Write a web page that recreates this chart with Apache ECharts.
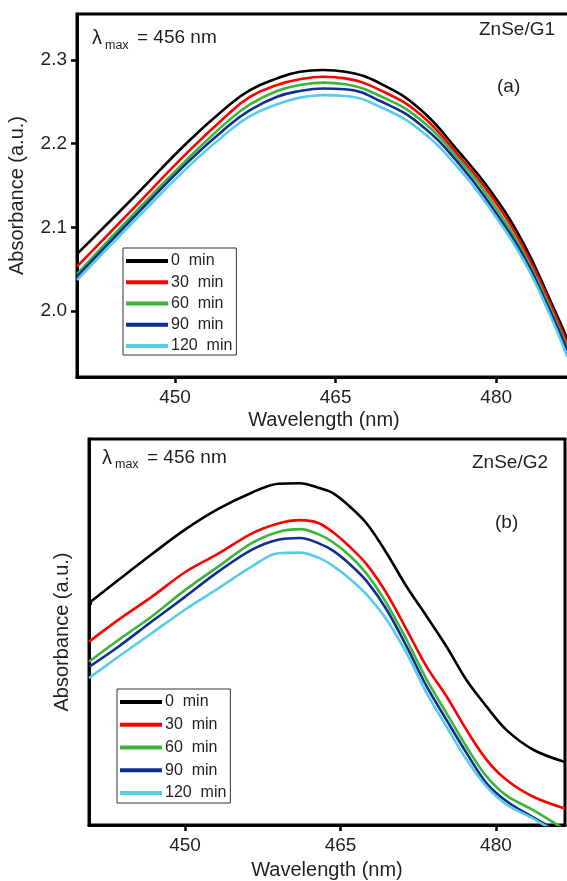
<!DOCTYPE html>
<html>
<head>
<meta charset="utf-8">
<script src="https://cdn.jsdelivr.net/npm/echarts@6/dist/echarts.min.js"></script>
<style>
html,body{margin:0;padding:0;background:#fff;}
#chart{width:567px;height:881px;}
</style>
</head>
<body>
<div id="chart"></div>
<script>
// ---------- DATA ----------
const SERIES_NAMES = ['0  min', '30  min', '60  min', '90  min', '120  min'];
const SERIES_COLORS = ['#000000', '#ff0000', '#3db43a', '#0d2f91', '#5acde6'];

// Panel (a) ZnSe/G1
const G1_WL = [440.84, 446.07, 451.12, 454.86, 457.0, 459.53, 461.68, 463.83, 465.89, 469.16, 472.9, 476.6, 479.5, 482.5, 485.0, 486.64];
const G1_0 = [2.068, 2.135, 2.201, 2.244, 2.264, 2.278, 2.286, 2.288, 2.286, 2.272, 2.241, 2.189, 2.143, 2.082, 2.014, 1.967];
const G1_30 = [2.053, 2.122, 2.189, 2.234, 2.256, 2.270, 2.277, 2.280, 2.278, 2.264, 2.235, 2.184, 2.138, 2.077, 2.010, 1.961];
const G1_60 = [2.044, 2.115, 2.181, 2.226, 2.247, 2.263, 2.270, 2.273, 2.271, 2.257, 2.229, 2.180, 2.132, 2.071, 2.005, 1.956];
const G1_90 = [2.041, 2.111, 2.177, 2.220, 2.240, 2.256, 2.263, 2.266, 2.265, 2.251, 2.223, 2.175, 2.126, 2.067, 2.001, 1.953];
const G1_120 = [2.037, 2.106, 2.171, 2.213, 2.233, 2.247, 2.255, 2.258, 2.257, 2.244, 2.216, 2.169, 2.121, 2.062, 1.996, 1.945];

// Panel (b) ZnSe/G2 (arbitrary units)
const G2_WL = [440.74, 443.57, 446.79, 450.00, 453.21, 456.43, 459.00, 461.09, 462.86, 464.31, 465.92, 467.53, 469.46, 471.39, 473.32, 475.24, 477.17, 479.10, 481.03, 483.60, 486.66];
const G2_0 = [2.100, 2.141, 2.187, 2.231, 2.268, 2.297, 2.313, 2.314, 2.306, 2.296, 2.272, 2.242, 2.189, 2.129, 2.076, 2.022, 1.962, 1.915, 1.873, 1.838, 1.816];
const G2_30 = [2.031, 2.070, 2.111, 2.155, 2.188, 2.224, 2.242, 2.248, 2.243, 2.226, 2.200, 2.169, 2.117, 2.052, 1.986, 1.933, 1.873, 1.820, 1.784, 1.754, 1.733];
const G2_60 = [1.995, 2.034, 2.076, 2.123, 2.165, 2.207, 2.227, 2.232, 2.223, 2.208, 2.184, 2.152, 2.099, 2.034, 1.963, 1.903, 1.843, 1.790, 1.756, 1.730, 1.695];
const G2_90 = [1.986, 2.022, 2.067, 2.111, 2.156, 2.195, 2.213, 2.216, 2.207, 2.193, 2.169, 2.139, 2.088, 2.022, 1.951, 1.891, 1.832, 1.778, 1.746, 1.717, 1.685];
const G2_120 = [1.966, 2.004, 2.046, 2.088, 2.126, 2.165, 2.189, 2.190, 2.181, 2.166, 2.143, 2.115, 2.070, 2.010, 1.939, 1.879, 1.820, 1.772, 1.740, 1.715, 1.680];

const X_TICKS = [450, 465, 480];
const Y1_TICKS = [2.0, 2.1, 2.2, 2.3];
const Y2_TICKS = [2.0, 2.1];

const X1_RANGE = [440.84, 486.99];
const X2_RANGE = [440.74, 486.66];
const Y1_RANGE = [1.921, 2.355];
const Y2_RANGE = [1.7036, 2.3929];

// ---------- CHART ----------
const FONT = '"Liberation Sans", Arial, Helvetica, sans-serif';
const TXT = '#231f20';
const G1 = [G1_0, G1_30, G1_60, G1_90, G1_120];
const G2 = [G2_0, G2_30, G2_60, G2_90, G2_120];

function pairs(xs, ys) { return xs.map((x, i) => [x, ys[i]]); }

function xAxisCfg(gi, range, nameGap) {
  return {
    gridIndex: gi, type: 'value', min: range[0], max: range[1],
    axisLine: { show: true, lineStyle: { color: '#000', width: 3 } },
    splitLine: { show: false },
    axisTick: { show: true, inside: false, length: 6, customValues: X_TICKS, lineStyle: { color: '#000', width: 2.5 } },
    axisLabel: { customValues: X_TICKS, fontSize: 19, color: TXT, fontFamily: FONT, margin: 11 },
    name: 'Wavelength (nm)', nameLocation: 'middle', nameGap: nameGap,
    nameTextStyle: { fontSize: 20, color: TXT, fontFamily: FONT }
  };
}

const series = [];
SERIES_NAMES.forEach((n, i) => {
  series.push({
    name: n, type: 'line', xAxisIndex: 0, yAxisIndex: 0,
    data: pairs(G1_WL, G1[i]), showSymbol: false, smooth: 0.45,
    lineStyle: { width: 2.6, color: SERIES_COLORS[i] }, itemStyle: { color: SERIES_COLORS[i] },
    z: 2 + i, silent: true
  });
});
SERIES_NAMES.forEach((n, i) => {
  series.push({
    name: n, type: 'line', xAxisIndex: 1, yAxisIndex: 1,
    data: pairs(G2_WL, G2[i]), showSymbol: false, smooth: 0.35,
    lineStyle: { width: 2.6, color: SERIES_COLORS[i] }, itemStyle: { color: SERIES_COLORS[i] },
    z: 2 + i, silent: true
  });
});

function legendCfg(left, top, gap, pad) {
  return {
    data: SERIES_NAMES, orient: 'vertical', left: left, top: top,
    icon: 'rect', itemWidth: 42, itemHeight: 4, itemGap: gap,
    selectedMode: false,
    textStyle: { fontSize: 16, color: TXT, fontFamily: FONT, padding: [0, 0, 0, -2] },
    borderColor: '#333', borderWidth: 1, backgroundColor: '#fff',
    padding: pad
  };
}

function txt(t, x, y, size) {
  return { type: 'text', x: x, y: y, z: 100,
    style: { text: t, font: size + 'px ' + FONT, fill: TXT, align: 'left', verticalAlign: 'middle' } };
}

const option = {
  animation: false,
  backgroundColor: '#fff',
  grid: [
    { left: 77, top: 14, right: -4, bottom: 504, show: true, borderColor: '#000', borderWidth: 3, outerBoundsMode: 'none', containLabel: false },
    { left: 89, top: 439, right: 2, bottom: 56, show: true, borderColor: '#000', borderWidth: 3, outerBoundsMode: 'none', containLabel: false }
  ],
  xAxis: [xAxisCfg(0, X1_RANGE, 33), xAxisCfg(1, X2_RANGE, 35)],
  yAxis: [
    {
      gridIndex: 0, type: 'value', min: Y1_RANGE[0], max: Y1_RANGE[1],
      axisLine: { show: true, lineStyle: { color: '#000', width: 3 } },
      splitLine: { show: false },
      axisTick: { show: true, inside: false, length: 6, customValues: Y1_TICKS, lineStyle: { color: '#000', width: 2.5 } },
      axisLabel: { customValues: Y1_TICKS, formatter: v => Number(v).toFixed(1), fontSize: 19, color: TXT, fontFamily: FONT, margin: 10 },
      name: 'Absorbance (a.u.)', nameLocation: 'middle', nameGap: 50,
      nameTextStyle: { fontSize: 20, color: TXT, fontFamily: FONT }
    },
    {
      gridIndex: 1, type: 'value', min: Y2_RANGE[0], max: Y2_RANGE[1],
      axisLine: { show: true, lineStyle: { color: '#000', width: 3 } },
      splitLine: { show: false },
      axisTick: { show: true, inside: true, length: 3, customValues: Y2_TICKS, lineStyle: { color: '#000', width: 2.5 } },
      axisLabel: { show: false },
      name: 'Absorbance (a.u.)', nameLocation: 'middle', nameGap: 17,
      nameTextStyle: { fontSize: 20, color: TXT, fontFamily: FONT }
    }
  ],
  legend: [legendCfg(123, 248, 5.25, [5, 4, 1, 3]), legendCfg(117, 689, 6.75, [5, 4, 2, 3])],
  series: series,
  graphic: [
    txt('λ', 92, 38, 20), txt('max', 105, 46, 12.5), txt('= 456 nm', 137, 38, 19),
    txt('ZnSe/G1', 479, 30, 19), txt('(a)', 497, 87, 19),
    txt('λ', 102, 458, 20), txt('max', 115, 465, 12.5), txt('= 456 nm', 147, 458, 19),
    txt('ZnSe/G2', 472, 463, 19), txt('(b)', 495, 523, 19)
  ]
};

const chart = echarts.init(document.getElementById('chart'), null, { renderer: 'canvas' });
chart.setOption(option);
</script>
</body>
</html>
